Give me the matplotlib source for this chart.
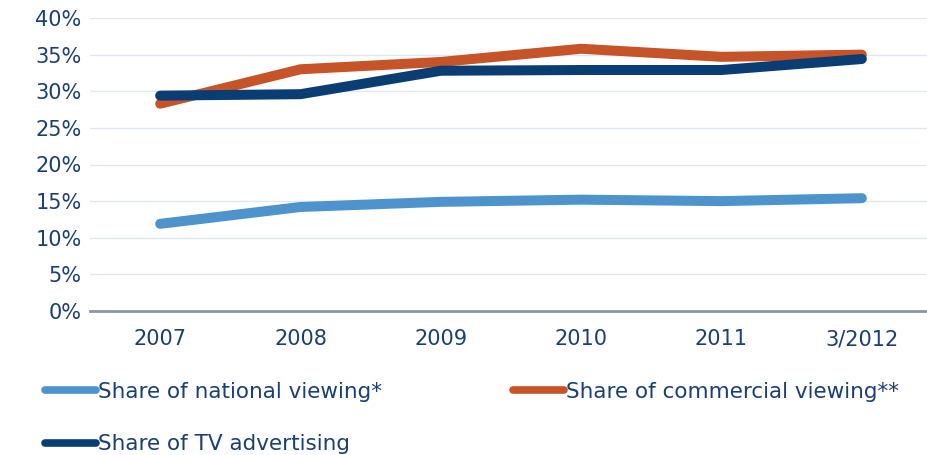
import matplotlib.pyplot as plt
from matplotlib.ticker import FuncFormatter

# data
years = ['2007', '2008', '2009', '2010', '2011', '3/2012']
national = [11.9, 14.2, 14.9, 15.2, 15.0, 15.4]
commercial = [28.3, 33.0, 34.0, 35.8, 34.7, 35.0]
tv_adv = [29.4, 29.6, 32.8, 32.9, 32.9, 34.4]

text_col = '#1B3F73'

plt.rcParams['font.family'] = 'DejaVu Sans'
plt.rcParams['font.size'] = 14

fig = plt.figure(figsize=(9.28, 4.55), dpi=100)
ax = fig.add_axes([90 / 928, 1 - 311 / 455, 842 / 928, 293 / 455])

x = range(len(years))
kw = dict(lw=7.2, solid_capstyle='round', solid_joinstyle='round')
l1, = ax.plot(x, national, color='#4E93CB', label='Share of national viewing*', **kw)
l2, = ax.plot(x, commercial, color='#C65428', label='Share of commercial viewing**', **kw)
l3, = ax.plot(x, tv_adv, color='#0B3D75', label='Share of TV advertising', **kw)

ax.set_ylim(0, 40)
ax.set_xlim(-0.5, 5.5)
ax.set_yticks(range(0, 41, 5))
ax.yaxis.set_major_formatter(FuncFormatter(lambda v, p: f'{v:.0f}%'))
ax.set_xticks(list(x))
ax.set_xticklabels(years)
ax.grid(axis='y', color='#DCE8F4', lw=1)
ax.set_axisbelow(True)
for s in ['top', 'right', 'left']:
    ax.spines[s].set_visible(False)
ax.spines['bottom'].set_color('#8A95A5')
ax.spines['bottom'].set_linewidth(2)
ax.tick_params(length=0, colors=text_col, labelsize=15)
ax.tick_params(axis='x', pad=13)
ax.tick_params(axis='y', pad=6)

# column-major ordering -> national, commercial on first row; TV on second
handles = [l1, l3, l2]
leg = fig.legend(handles, [h.get_label() for h in handles],
                 loc='upper left', bbox_to_anchor=(34 / 928, 1 - 371 / 455), ncol=2,
                 frameon=False, handlelength=2.4, handletextpad=0.05,
                 columnspacing=6.1, labelspacing=1.5, fontsize=15.5, borderpad=0)
for t in leg.get_texts():
    t.set_color(text_col)
for h in leg.get_lines():
    h.set_linewidth(5.5)

fig.savefig('out.png', dpi=100)
